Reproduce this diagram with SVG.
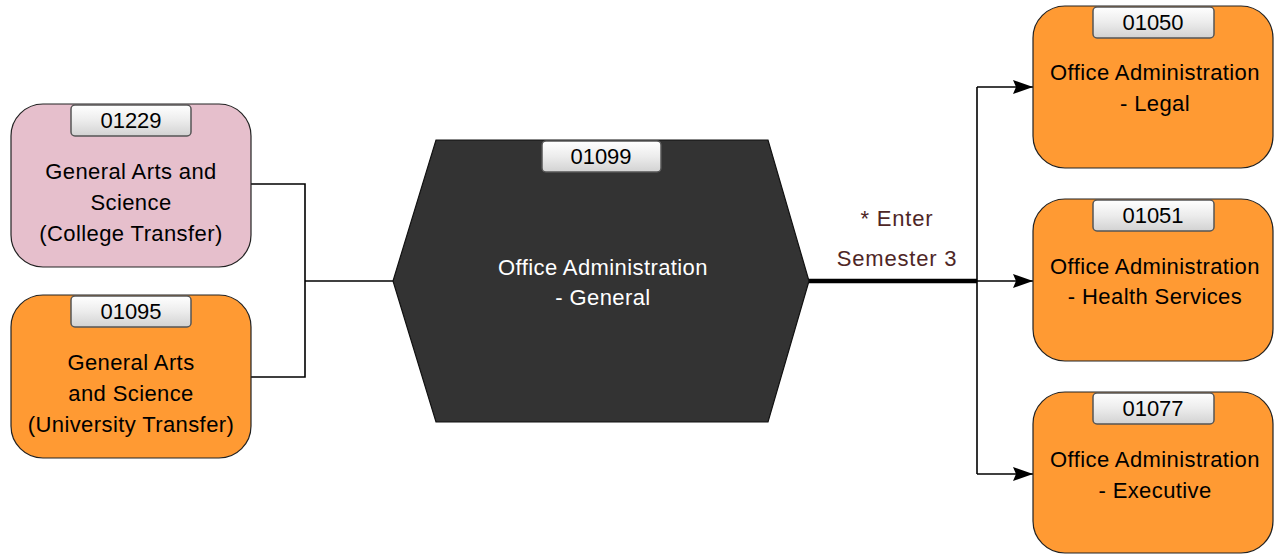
<svg xmlns="http://www.w3.org/2000/svg" width="1275" height="554" viewBox="0 0 1275 554">
<style>
.node{stroke:#222;stroke-width:1.2}
.pink{fill:#E6BFCC}
.orange{fill:#FF9A33}
.hex{fill:#333333;stroke:#111;stroke-width:1.2}
.badge{fill:url(#bg);stroke:#555;stroke-width:1.5}
.bt{font-family:"Liberation Sans",Arial,sans-serif;font-size:22px;fill:#000;text-anchor:middle}
.t{font-family:"Liberation Sans",Arial,sans-serif;font-size:22px;fill:#000;text-anchor:middle;letter-spacing:0.4px}
.w{fill:#fff}
.lbl{font-family:"Liberation Sans",Arial,sans-serif;font-size:22px;fill:#4E2626;text-anchor:middle;letter-spacing:0.8px}
.c{fill:none;stroke:#000;stroke-width:1.6}
.ct{fill:none;stroke:#000;stroke-width:4.5}
</style>
<defs>
<linearGradient id="bg" x1="0" y1="0" x2="0" y2="1">
<stop offset="0" stop-color="#ffffff"/>
<stop offset="0.5" stop-color="#ececec"/>
<stop offset="1" stop-color="#d2d2d2"/>
</linearGradient>
<marker id="arr" viewBox="0 0 20 14" refX="20" refY="7" markerWidth="20" markerHeight="14" markerUnits="userSpaceOnUse" orient="auto">
<path d="M0,0 L20,7 L0,14 L3,7 Z" fill="#000"/>
</marker>
</defs>
<g id="connectors">
<polyline class="c" points="251,184 305,184 305,377 251,377"/>
<line class="c" x1="305" y1="281" x2="394" y2="281"/>
<line class="ct" x1="808" y1="281" x2="977" y2="281"/>
<line class="c" x1="977" y1="87" x2="977" y2="474"/>
<line class="c" x1="977" y1="87" x2="1033" y2="87" marker-end="url(#arr)"/>
<line class="c" x1="977" y1="281" x2="1033" y2="281" marker-end="url(#arr)"/>
<line class="c" x1="977" y1="474" x2="1033" y2="474" marker-end="url(#arr)"/>
<text class="lbl" x="897" y="226">* Enter</text>
<text class="lbl" x="897" y="266">Semester 3</text>
</g>
<g id="n01229">
<rect class="node pink" x="11" y="104" width="240" height="163" rx="32"/>
<rect class="badge" x="71" y="105" width="120" height="31" rx="4"/>
<text class="bt" x="131" y="128">01229</text>
<text class="t" x="131" y="179">General Arts and</text>
<text class="t" x="131" y="210">Science</text>
<text class="t" x="131" y="241">(College Transfer)</text>
</g>
<g id="n01095">
<rect class="node orange" x="11" y="295" width="240" height="163" rx="32"/>
<rect class="badge" x="71" y="296" width="120" height="31" rx="4"/>
<text class="bt" x="131" y="319">01095</text>
<text class="t" x="131" y="370">General Arts</text>
<text class="t" x="131" y="401">and Science</text>
<text class="t" x="131" y="432">(University Transfer)</text>
</g>
<g id="n01099">
<polygon class="hex" points="436,140 768,140 809,281 768,422 436,422 393,281"/>
<rect class="badge" x="542" y="141" width="119" height="31" rx="4"/>
<text class="bt" x="601" y="164">01099</text>
<text class="t w" x="603" y="275">Office Administration</text>
<text class="t w" x="603" y="305">- General</text>
</g>
<g id="n01050">
<rect class="node orange" x="1033" y="6" width="240" height="162" rx="32"/>
<rect class="badge" x="1093" y="7" width="121" height="31" rx="4"/>
<text class="bt" x="1153" y="30">01050</text>
<text class="t" x="1155" y="80">Office Administration</text>
<text class="t" x="1155" y="111">- Legal</text>
</g>
<g id="n01051">
<rect class="node orange" x="1033" y="199" width="240" height="162" rx="32"/>
<rect class="badge" x="1093" y="200" width="121" height="31" rx="4"/>
<text class="bt" x="1153" y="223">01051</text>
<text class="t" x="1155" y="274">Office Administration</text>
<text class="t" x="1155" y="304">- Health Services</text>
</g>
<g id="n01077">
<rect class="node orange" x="1033" y="392" width="240" height="161" rx="32"/>
<rect class="badge" x="1093" y="393" width="121" height="31" rx="4"/>
<text class="bt" x="1153" y="416">01077</text>
<text class="t" x="1155" y="467">Office Administration</text>
<text class="t" x="1155" y="498">- Executive</text>
</g>
</svg>
